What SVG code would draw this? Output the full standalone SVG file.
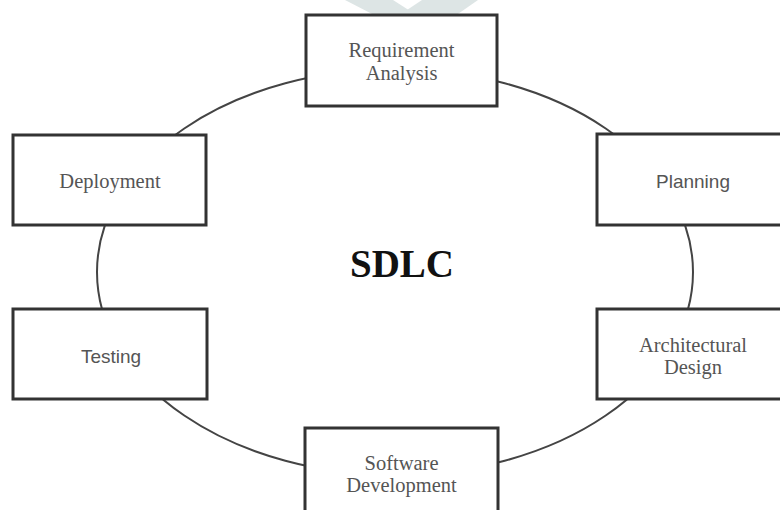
<svg xmlns="http://www.w3.org/2000/svg" width="780" height="510" viewBox="0 0 780 510">
<style>
.box{fill:#fff;stroke:#333;stroke-width:3}
.ser{font-family:"Liberation Serif","Times New Roman",serif;font-size:20.5px;fill:#555;text-anchor:middle}
.san{font-family:"Liberation Sans",Arial,sans-serif;font-size:19px;fill:#555;text-anchor:middle}
.wm{fill:#dde5e5}
</style>
<rect width="780" height="510" fill="#fff"/>
<g id="watermark">
<polygon class="wm" points="345,0 393,0 418,16 376,16"/>
<polygon class="wm" points="422,0 478,0 455,16 398,16"/>
</g>
<g id="connectors">
<ellipse cx="395" cy="272" rx="298" ry="203" fill="none" stroke="#444" stroke-width="2"/>
</g>
<g id="requirement">
<rect class="box" x="306" y="15" width="191" height="91"/>
<text class="ser" x="401.5" y="57">Requirement</text>
<text class="ser" x="401.5" y="80">Analysis</text>
</g>
<g id="planning">
<rect class="box" x="597" y="134" width="193" height="91"/>
<text class="san" x="693" y="188">Planning</text>
</g>
<g id="architectural">
<rect class="box" x="597" y="309" width="193" height="90"/>
<text class="ser" x="693" y="352">Architectural</text>
<text class="ser" x="693" y="374">Design</text>
</g>
<g id="software">
<rect class="box" x="305" y="428" width="193" height="95"/>
<text class="ser" x="401.5" y="470">Software</text>
<text class="ser" x="401.5" y="492">Development</text>
</g>
<g id="testing">
<rect class="box" x="13" y="309" width="194" height="90"/>
<text class="san" x="111" y="363">Testing</text>
</g>
<g id="deployment">
<rect class="box" x="13" y="135" width="193" height="90"/>
<text class="ser" x="110" y="188">Deployment</text>
</g>
<g id="center">
<text x="402" y="277" font-family="'Liberation Serif','Times New Roman',serif" font-weight="bold" font-size="39" fill="#111" text-anchor="middle">SDLC</text>
</g>
</svg>
